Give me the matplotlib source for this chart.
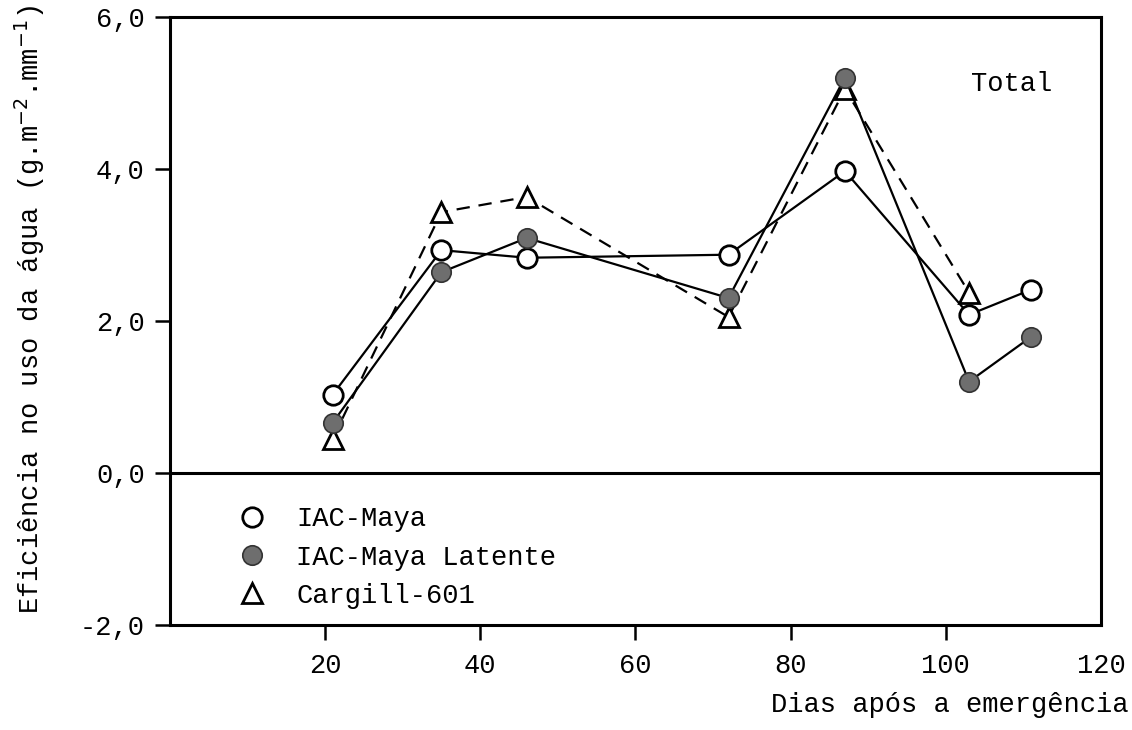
import matplotlib
matplotlib.use('Agg')
import matplotlib.pyplot as plt
from matplotlib.lines import Line2D

plt.rcParams['font.family'] = ['Liberation Mono', 'DejaVu Sans Mono']

# dias apos a emergencia
dias = [21, 35, 46, 72, 87, 103, 111]
dias_cargill = [21, 35, 46, 72, 87, 103]

maya = [1.03, 2.93, 2.83, 2.87, 3.97, 2.08, 2.41]
maya_latente = [0.66, 2.64, 3.09, 2.30, 5.20, 1.20, 1.79]
cargill = [0.45, 3.43, 3.63, 2.05, 5.05, 2.37]

x_ticks = [20, 40, 60, 80, 100, 120]
x_labels = ['20', '40', '60', '80', '100', '120']
y_ticks = [-2, 0, 2, 4, 6]
y_labels = ['-2,0', '0,0', '2,0', '4,0', '6,0']

fig = plt.figure(figsize=(11.32, 7.30), dpi=100)
ax = fig.add_axes([0.150, 0.144, 0.8226, 0.833])

ms = 14
grey = '#6e6e6e'
fs = 19.5

ax.axhline(0, color='black', lw=2.2, zorder=1)

ax.plot(dias_cargill, cargill, color='black', lw=1.6, ls=(0, (6, 4)),
        marker='^', ms=ms, mfc='white', mec='black', mew=2, zorder=3)
ax.plot(dias, maya, color='black', lw=1.6,
        marker='o', ms=ms, mfc='white', mec='black', mew=2, zorder=4)
ax.plot(dias, maya_latente, color='black', lw=1.6,
        marker='o', ms=ms, mfc=grey, mec='#333333', mew=1.2, zorder=5)

ax.set_xlim(0, 120)
ax.set_ylim(-2, 6)
ax.set_xticks(x_ticks)
ax.set_xticklabels(x_labels)
ax.set_yticks(y_ticks)
ax.set_yticklabels(y_labels)
ax.tick_params(direction='out', length=11, width=1.8, labelsize=fs, pad=7)
ax.tick_params(axis='x', pad=9)
ax.xaxis.get_major_ticks()[-1].tick1line.set_visible(False)

for side in ['left', 'right', 'top', 'bottom']:
    ax.spines[side].set_linewidth(2.2)

ax.text(0.86, 0.89, 'Total', transform=ax.transAxes, fontsize=fs, va='center')

handles = [
    Line2D([], [], ls='none', marker='o', ms=ms, mfc='white', mec='black', mew=2),
    Line2D([], [], ls='none', marker='o', ms=ms, mfc=grey, mec='#333333', mew=1.2),
    Line2D([], [], ls='none', marker='^', ms=ms, mfc='white', mec='black', mew=2),
]
ax.legend(handles, ['IAC-Maya', 'IAC-Maya Latente', 'Cargill-601'],
          loc='upper left', bbox_to_anchor=(0.04, 0.235), frameon=False,
          fontsize=fs, labelspacing=0.45, handlelength=1.5, handletextpad=0.9)

fig.text(30 / 1132, 1 - 310 / 730,
         'Eficiência no uso da água (g.m$^{-2}$.mm$^{-1}$)',
         rotation=90, ha='center', va='center', fontsize=fs)
fig.text(0.997, 1 - 705 / 730, 'Dias após a emergência',
         ha='right', va='center', fontsize=fs)

fig.savefig('out.png', dpi=100)
